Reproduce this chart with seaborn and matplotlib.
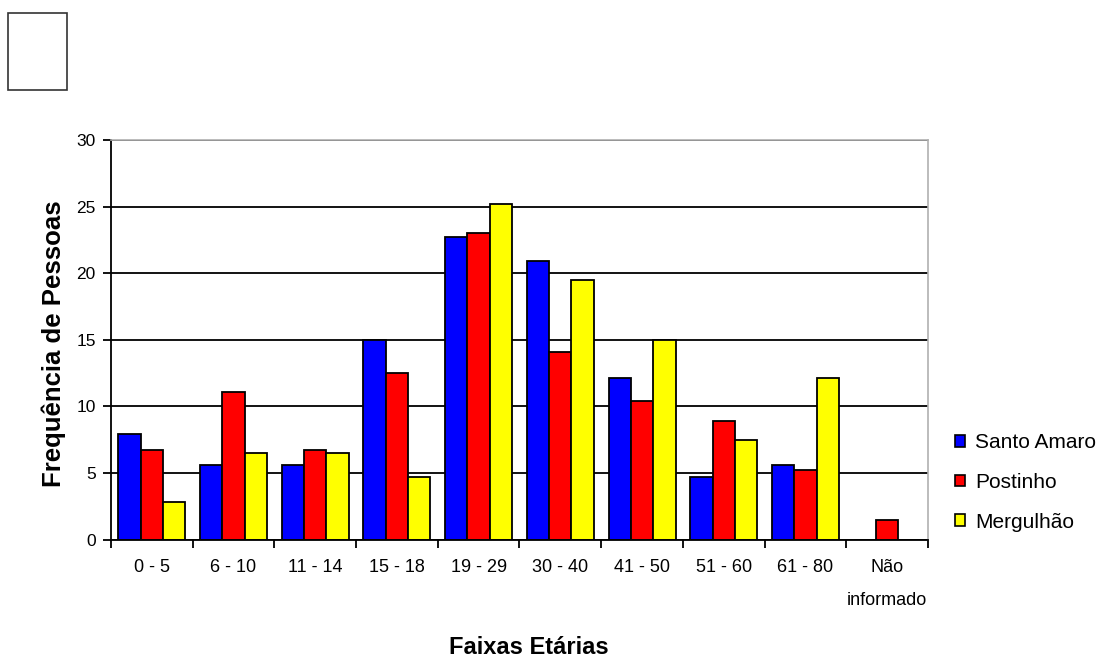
import matplotlib
matplotlib.use("Agg")
import matplotlib.pyplot as plt
from matplotlib.patches import Patch, Rectangle
from matplotlib.ticker import FixedLocator, MultipleLocator
import pandas as pd
import seaborn as sns

# Age groups and number of people per locality
faixas = ["0 - 5", "6 - 10", "11 - 14", "15 - 18", "19 - 29",
          "30 - 40", "41 - 50", "51 - 60", "61 - 80", "Não\ninformado"]
santo_amaro = [7.9, 5.6, 5.6, 15.0, 22.7, 20.9, 12.1, 4.7, 5.6, 0.0]
postinho = [6.7, 11.1, 6.7, 12.5, 23.0, 14.1, 10.4, 8.9, 5.2, 1.5]
mergulhao = [2.8, 6.5, 6.5, 4.7, 25.2, 19.5, 15.0, 7.5, 12.1, 0.0]
locais = ["Santo Amaro", "Postinho", "Mergulhão"]
cores = ["#0000ff", "#ff0000", "#ffff00"]

df = pd.DataFrame({
    "faixa": faixas * 3,
    "freq": santo_amaro + postinho + mergulhao,
    "local": [l for l in locais for _ in faixas],
})

sns.set_theme(style="white")
plt.rcParams["font.family"] = ["Liberation Sans", "DejaVu Sans"]
plt.rcParams["text.color"] = "black"
plt.rcParams["xtick.color"] = "black"
plt.rcParams["ytick.color"] = "black"
plt.rcParams["xtick.labelcolor"] = "black"
plt.rcParams["ytick.labelcolor"] = "black"

fig = plt.figure(figsize=(11, 6.59), dpi=100)
ax = fig.add_axes([0.1009, 0.1813, 0.7427, 0.6063])

sns.barplot(data=df, x="faixa", y="freq", hue="local", order=faixas,
            hue_order=locais, palette=cores, edgecolor="black",
            linewidth=1.3, width=0.82, saturation=1, legend=False, ax=ax)

ax.set_xlim(-0.5, len(faixas) - 0.5)
ax.set_ylim(0, 30)
ax.yaxis.set_major_locator(MultipleLocator(5))

# horizontal gridlines behind the bars
ax.set_axisbelow(True)
ax.grid(axis="y", color="black", linewidth=1.3)
ax.get_ygridlines()[-1].set_visible(False)
ax.get_ygridlines()[0].set_visible(False)

# spines: black axes, light grey plot-area border
for side in ("left", "bottom"):
    ax.spines[side].set_color("black")
    ax.spines[side].set_linewidth(1.3)
for side in ("top", "right"):
    ax.spines[side].set_color("#b0b0b0")
    ax.spines[side].set_linewidth(1.2)

# category labels centred, tick marks between categories
ax.tick_params(axis="x", which="major", length=0, pad=14, labelsize=13)
ax.xaxis.set_minor_locator(FixedLocator([i - 0.5 for i in range(len(faixas) + 1)]))
ax.tick_params(axis="x", which="minor", bottom=True, direction="out",
               length=6, width=1.3, color="black")
ax.tick_params(axis="y", left=True, direction="out", length=6, width=1.3,
               labelsize=12.5, pad=5)
for lab in ax.get_xticklabels():
    lab.set_linespacing(2.2)
    lab.set_verticalalignment("top")

ax.set_xlabel("")
ax.set_ylabel("")
fig.text(529 / 1100, 1 - 647 / 659, "Faixas Etárias", ha="center",
         va="center", fontsize=17, fontweight="bold")
fig.text(54 / 1100, 1 - 344 / 659, "Frequência de Pessoas", ha="center",
         va="center", rotation=90, fontsize=18.5, fontweight="bold")

handles = [Patch(facecolor=c, edgecolor="black", linewidth=1.2) for c in cores]
fig.legend(handles, locais, loc="upper left",
           bbox_to_anchor=(955 / 1100, 1 - 433 / 659), frameon=False,
           fontsize=15, handlelength=0.5, handleheight=0.5,
           handletextpad=0.45, labelspacing=1.0, borderpad=0,
           borderaxespad=0)

# empty title box in the upper-left corner
fig.patches.append(Rectangle((8 / 1100, 1 - 90 / 659), 59 / 1100, 77 / 659,
                             transform=fig.transFigure, fill=False,
                             edgecolor="#333333", linewidth=1.2))

fig.savefig("out.png", dpi=100, facecolor="white")
